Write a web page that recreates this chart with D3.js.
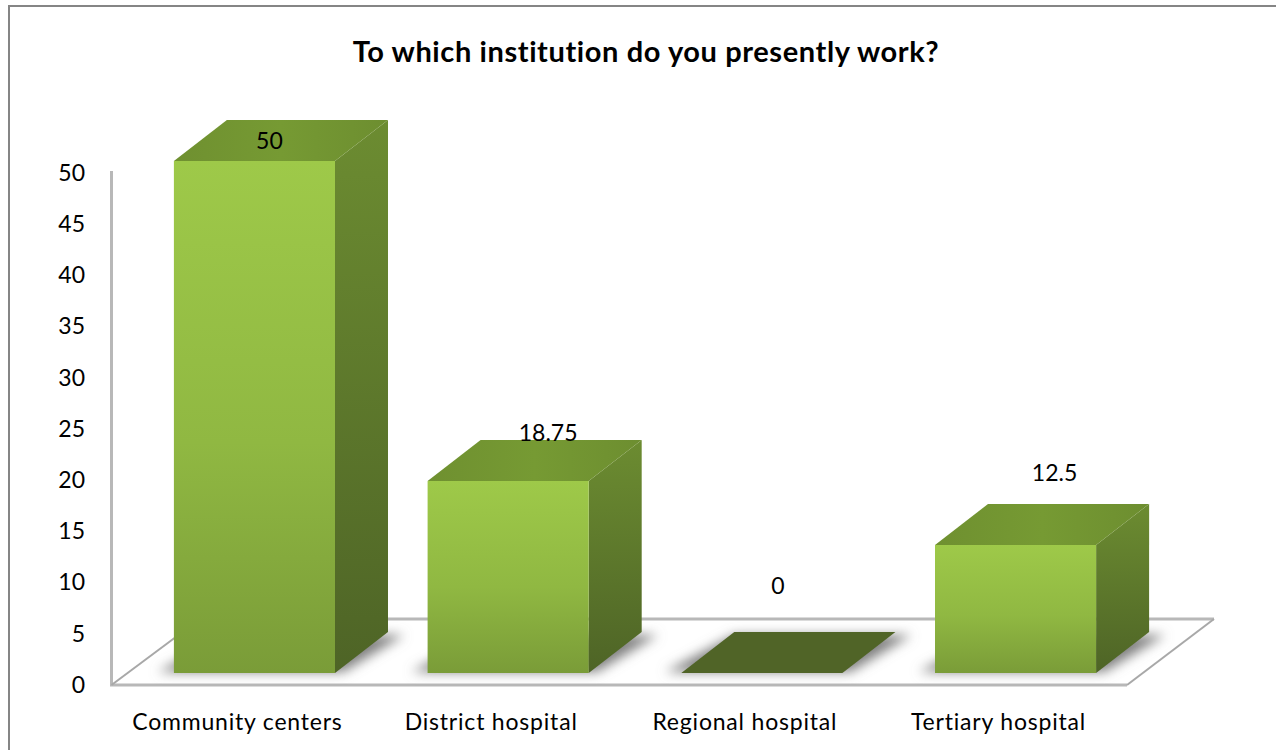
<!DOCTYPE html>
<html><head><meta charset="utf-8">
<script src="https://cdn.jsdelivr.net/npm/d3@7/dist/d3.min.js"></script>
<style>html,body{margin:0;padding:0;background:#fff}svg{display:block}text{font-family:Lato,"Open Sans",sans-serif;fill:#000}</style>
</head><body><div id="c"></div>
<script>
const categories=["Community centers","District hospital","Regional hospital","Tertiary hospital"];
const values=[50,18.75,0,12.5];
const yTicks=[0,5,10,15,20,25,30,35,40,45,50];
const titleText="To which institution do you presently work?";
const labelLift=[20,48,87,72];
const labelShift=[15,40,16,39];

const W=1276,H=750,dx=53,dy=-41,floorFront=685,floorBack=619;
const svg=d3.select("#c").append("svg").attr("width",W).attr("height",H);
const defs=svg.append("defs");
function grad(id,stops,x2=0,y2=1){
  const g=defs.append("linearGradient").attr("id",id).attr("x1",0).attr("y1",0).attr("x2",x2).attr("y2",y2);
  stops.forEach(s=>g.append("stop").attr("offset",s[0]).attr("stop-color",s[1]));
}
grad("front",[[0,"#9ec949"],[.55,"#90b842"],[1,"#7a9c38"]]);
grad("side",[[0,"#6c8c31"],[1,"#4e6426"]]);
grad("top",[[0,"#6f9030"],[.5,"#769a33"],[1,"#6d8e30"]],1,0);
defs.append("filter").attr("id","blur").attr("x","-20%").attr("y","-40%").attr("width","140%").attr("height","180%")
  .append("feGaussianBlur").attr("stdDeviation",6);

const x=d3.scaleBand().domain(categories).range([127.6,1142.4]).paddingInner(.365).paddingOuter(.1825);
const yBar=d3.scaleLinear().domain([0,50]).range([673,161]);
const yAxis=d3.scaleLinear().domain([0,50]).range([685,173]);
const pts=a=>a.map(p=>p.join(",")).join(" ");

// frame: top and left rules only
svg.append("polyline").attr("points",pts([[9,H],[9,6],[W,6]]))
  .attr("fill","none").attr("stroke","#858585").attr("stroke-width",2);

// floor
const axisX=111.5,rightFront=1127,rightBack=1214;
svg.append("polyline").attr("points",pts([[axisX,171],[axisX,floorFront],[rightFront,floorFront]]))
  .attr("fill","none").attr("stroke","#b8b8b8").attr("stroke-width",3);
svg.append("line").attr("x1",axisX+72).attr("y1",floorBack).attr("x2",rightBack).attr("y2",floorBack)
  .attr("stroke","#b8b8b8").attr("stroke-width",3);
svg.append("line").attr("x1",rightFront).attr("y1",floorFront).attr("x2",rightBack).attr("y2",floorBack)
  .attr("stroke","#a8a8a8").attr("stroke-width",2);
svg.append("line").attr("x1",axisX).attr("y1",floorFront).attr("x2",axisX+63).attr("y2",floorFront-47)
  .attr("stroke","#a8a8a8").attr("stroke-width",2);

// y axis labels
const ya=svg.append("g").attr("transform","translate(85,0)")
  .call(d3.axisLeft(yAxis).tickValues(yTicks).tickSize(0).tickPadding(0));
ya.select(".domain").remove();
ya.selectAll("text").style("font-family","Lato,sans-serif").style("font-size","23px").attr("fill","#000");

// shadows
const bars=svg.append("g").selectAll("g").data(categories.map((c,i)=>({c,v:values[i],i}))).join("g");
bars.append("polygon").attr("filter","url(#blur)").attr("fill","#808080")
  .attr("points",d=>{const a=x(d.c),b=a+x.bandwidth(),y0=yBar(0);
    return pts([[a-16,y0-1],[b+8,y0-1],[b+dx+16,y0+dy+3],[a+dx,y0+dy+3]]);});
// bar faces
bars.filter(d=>d.v===0).append("polygon").attr("fill","#506427")
  .attr("points",d=>{const a=x(d.c),b=a+x.bandwidth(),y0=yBar(0);
    return pts([[a,y0],[b,y0],[b+dx,y0+dy],[a+dx,y0+dy]]);});
const solid=bars.filter(d=>d.v>0);
solid.append("polygon").attr("fill","url(#side)")
  .attr("points",d=>{const b=x(d.c)+x.bandwidth();
    return pts([[b,yBar(d.v)],[b+dx,yBar(d.v)+dy],[b+dx,yBar(0)+dy],[b,yBar(0)]]);});
solid.append("polygon").attr("fill","url(#top)")
  .attr("points",d=>{const a=x(d.c),b=a+x.bandwidth(),t=yBar(d.v);
    return pts([[a,t],[b,t],[b+dx,t+dy],[a+dx,t+dy]]);});
solid.append("rect").attr("fill","url(#front)")
  .attr("x",d=>x(d.c)).attr("y",d=>yBar(d.v)).attr("width",x.bandwidth()).attr("height",d=>yBar(0)-yBar(d.v));

// value labels
svg.append("g").selectAll("text").data(values).join("text")
  .attr("text-anchor","middle").attr("font-size",23)
  .attr("x",(d,i)=>x(categories[i])+x.bandwidth()/2+labelShift[i])
  .attr("y",(d,i)=>yBar(d)-labelLift[i]+8)
  .text(d=>d);

// category labels
svg.append("g").selectAll("text").data(categories).join("text")
  .attr("text-anchor","middle").attr("font-size",23).attr("letter-spacing",0.8)
  .attr("x",c=>x(c)+x.bandwidth()/2-17).attr("y",730)
  .text(c=>c);

svg.append("text").attr("x",646).attr("y",62).attr("text-anchor","middle")
  .attr("font-size",29).attr("font-weight",700).attr("letter-spacing",0.6).text(titleText);
</script></body></html>
